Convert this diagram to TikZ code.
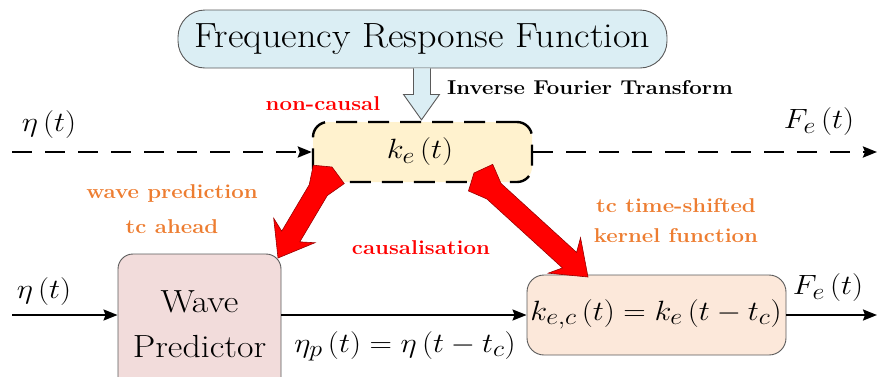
\documentclass[tikz,border=0pt]{standalone}
\usepackage{graphicx}
\usetikzlibrary{calc,arrows.meta}
\definecolor{frfblue}{RGB}{219,238,244}
\definecolor{keyellow}{RGB}{255,242,206}
\definecolor{wppink}{RGB}{242,220,219}
\definecolor{kecpeach}{RGB}{252,232,218}
\definecolor{lblorange}{RGB}{237,125,49}
\definecolor{boxgray}{RGB}{90,90,90}
\newcommand\wide[2]{\scalebox{#1}[1]{#2}}
\newcommand\mx[1]{\scalebox{1.25}[1.12]{$#1$}}
\newcommand\fatarrow[2]{%
  \filldraw[fill=red, draw=red!60!black, line width=0.6pt, line join=miter]
    (#1)
    -- ($(#1)!8pt!(#2)!17pt!-90:(#2)$)
    -- ($(#1)!27pt!(#2)!10.5pt!-90:(#2)$)
    -- ($(#2)!25pt!(#1)!10.5pt!90:(#1)$)
    -- ($(#2)!32pt!(#1)!24pt!90:(#1)$)
    -- (#2)
    -- ($(#2)!32pt!(#1)!24pt!-90:(#1)$)
    -- ($(#2)!25pt!(#1)!10.5pt!-90:(#1)$)
    -- ($(#1)!27pt!(#2)!10.5pt!90:(#2)$)
    -- ($(#1)!8pt!(#2)!19pt!90:(#2)$)
    -- cycle;}
\begin{document}
\begin{tikzpicture}[x=1pt,y=-1pt,
  frfbox/.style={draw=boxgray, line width=0.9pt, fill=frfblue, rounded corners=27pt,
    minimum width=489pt, minimum height=58pt, inner sep=0pt},
  kebox/.style={draw=black, line width=2.4pt, dash pattern=on 21pt off 11pt, fill=keyellow,
    rounded corners=15pt, minimum width=219pt, minimum height=60pt, inner sep=0pt},
  wpbox/.style={draw=boxgray, line width=0.9pt, fill=wppink, rounded corners=15pt,
    minimum width=163pt, minimum height=140pt, inner sep=0pt},
  kecbox/.style={draw=boxgray, line width=0.9pt, fill=kecpeach, rounded corners=17pt,
    minimum width=259pt, minimum height=80pt, inner sep=0pt},
  dashline/.style={line width=2.4pt, dash pattern=on 20pt off 13pt},
  sigline/.style={line width=2pt},
  tip/.style={-{Stealth[length=14pt,width=11pt,inset=2pt]}},
  bigtext/.style={font=\fontsize{35}{40}\selectfont},
  mathtext/.style={font=\fontsize{24.88}{30}\selectfont, inner sep=0pt},
  redlbl/.style={text=red, font=\fontsize{20}{22}\selectfont\bfseries, inner sep=0pt},
  orlbl/.style={text=lblorange, font=\fontsize{20}{22}\selectfont\bfseries, inner sep=0pt},
  blklbl/.style={text=black, font=\fontsize{20}{22}\selectfont\bfseries, inner sep=0pt},
  hollow/.style={draw=boxgray, line width=0.9pt, fill=frfblue, line join=miter}
]
\clip (0,0) rectangle (878,376);

% boxes
\node[frfbox, bigtext] (frf) at (422.5,39) {\wide{1.09}{Frequency Response Function}};
\node[kebox] (ke) at (422.5,152) {};
\node[mathtext] (ketxt) at (420,152) {\mx{k_e\,(t)}};
\node[wpbox, align=center, font=\fontsize{32}{45}\selectfont] (wp) at (199.5,324)
  {\wide{1.12}{Wave}\\\wide{1.12}{Predictor}};
\node[kecbox] (kec) at (656.5,315) {};
\node[mathtext] (kectxt) at (656,314) {\mx{k_{e,c}\,(t)=k_e\,(t-t_c)}};

% hollow arrow
\filldraw[hollow] ($(frf.south)+(-9,0)$) -- ($(frf.south)+(-9,26)$) -- ($(frf.south)+(-19,26)$)
  -- ($(ke.north)+(-1,-1)$) -- ($(frf.south)+(17,26)$) -- ($(frf.south)+(8,26)$) -- ($(frf.south)+(8,0)$);

% top dashed signal line
\coordinate (inA) at (12,152);
\coordinate (outA) at (877,152);
\draw[dashline, tip] (inA) -- (ke.west);
\draw[dashline, tip] (ke.east) -- (outA);

% lower signal line
\coordinate (inB) at (12,315);
\coordinate (outB) at (877,315);
\draw[sigline, tip] (inB) -- (wp.west |- inB);
\draw[sigline, tip] (wp.east |- inB) -- (kec.west |- inB);
\draw[sigline, tip] (kec.east |- inB) -- (outB);

% signal labels
\node[mathtext] (etaA) at (49,125) {\mx{\eta\,(t)}};
\node[mathtext] (FeA) at (819,122) {\mx{F_e\,(t)}};
\node[mathtext] (etaB) at (44,292) {\mx{\eta\,(t)}};
\node[mathtext] (FeB) at (828,288) {\mx{F_e\,(t)}};
\node[mathtext] (etap) at (405,346) {\mx{\eta_p\,(t)=\eta\,(t-t_c)}};

% red fat arrows
\coordinate (ra1t) at (332,167);
\coordinate (ra1p) at (278,258);
\coordinate (ra2t) at (474,173);
\coordinate (ra2p) at (588,277);
\fatarrow{ra1t}{ra1p}
\fatarrow{ra2t}{ra2p}

% annotations
\node[blklbl] (ift) at (590,88) {\wide{1.11}{Inverse Fourier Transform}};
\node[redlbl] (nc) at (323,104) {\wide{1.11}{non-causal}};
\node[redlbl] (cs) at (421,248) {\wide{1.11}{causalisation}};
\node[orlbl] (wpl1) at (172,193) {\wide{1.11}{wave prediction}};
\node[orlbl] (wpl2) at (172,227) {\wide{1.11}{tc ahead}};
\node[orlbl] (tsl1) at (676,206) {\wide{1.11}{tc time-shifted}};
\node[orlbl] (tsl2) at (676,236) {\wide{1.11}{kernel function}};
\end{tikzpicture}
\end{document}
